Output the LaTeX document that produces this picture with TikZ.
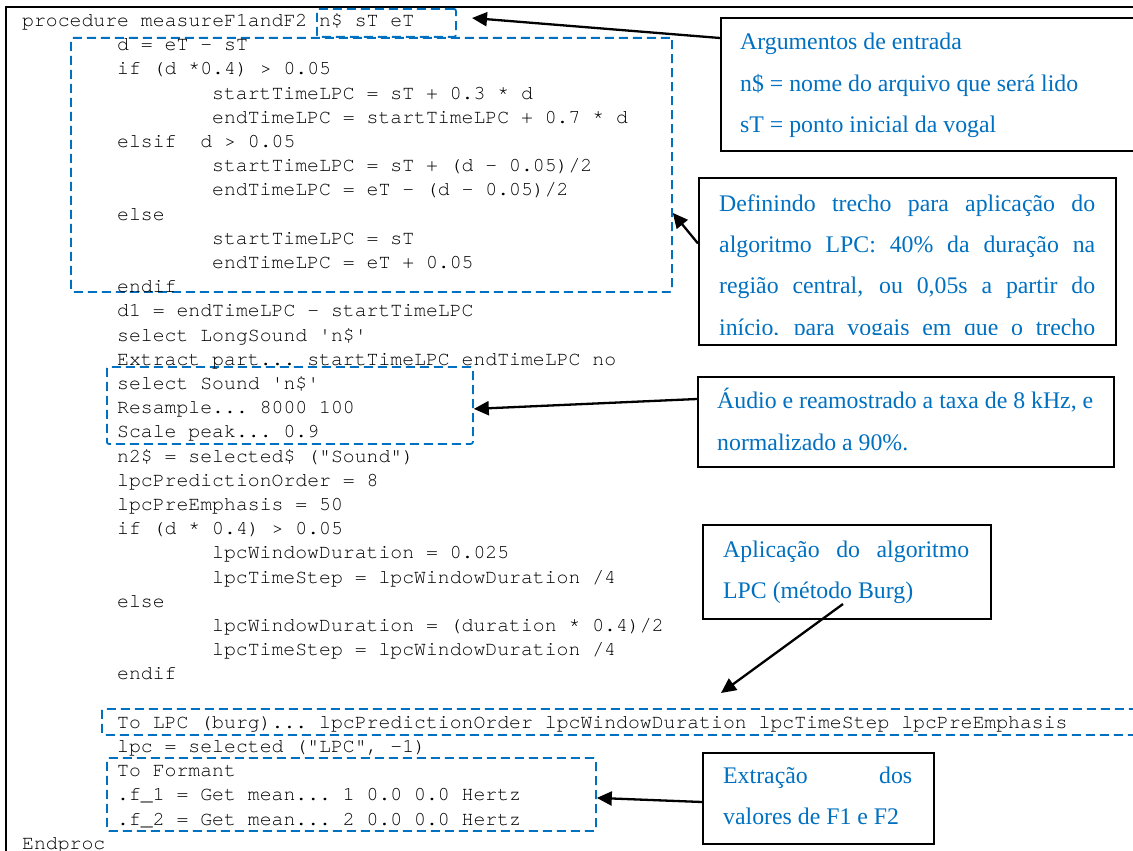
\documentclass[tikz,border=0pt]{standalone}
\usepackage{fontspec}
\setmainfont{Liberation Serif}
\setmonofont{texgyrecursor}[Extension=.otf, UprightFont=*-regular]
\usetikzlibrary{arrows.meta}
\definecolor{wordblue}{RGB}{0,112,192}
\tikzset{
  code/.style={anchor=base west, inner sep=0pt, font=\ttfamily\fontsize{19.8}{24}\selectfont},
  note/.style={anchor=base west, inner sep=0pt, text=wordblue, font=\fontsize{23.8}{28}\selectfont},
  dbox/.style={draw=wordblue, line width=1.8pt, dash pattern=on 9pt off 5pt, rounded corners=2pt, anchor=north west, inner sep=0pt},
  cbox/.style={draw=black, line width=2pt, fill=white, anchor=north west, inner sep=0pt},
  arr/.style={line width=2.3pt, -{Triangle[length=15pt,width=14pt]}},
}
\begin{document}
\begin{tikzpicture}[x=1pt,y=-1pt]
\useasboundingbox (0,0) rectangle (1133,851);
\clip (0,0) rectangle (1133,851);
% outer frame
\draw[line width=2pt] (1170,7) -- (6,7) -- (6,880);
% dashed boxes
\node[dbox, minimum width=139pt, minimum height=28pt] (b1) at (316,8) {};
\node[dbox, minimum width=601pt, minimum height=254pt] (b2) at (70,37) {};
\node[dbox, minimum width=366pt, minimum height=77pt] (b3) at (106,366) {};
\node[dbox, minimum width=1080pt, minimum height=26pt] (b4) at (101,708) {};
\node[dbox, minimum width=489pt, minimum height=73pt] (b5) at (106,757) {};
% code
\node[code] (c0) at (22,26.5) {procedure measureF1andF2 n\$ sT eT};
\node[code] (c1) at (117,50.7) {d = eT - sT};
\node[code] (c2) at (117,74.9) {if (d *0.4) > 0.05};
\node[code] (c3) at (212,99.1) {startTimeLPC = sT + 0.3 * d};
\node[code] (c4) at (212,123.3) {endTimeLPC = startTimeLPC + 0.7 * d};
\node[code] (c5) at (117,147.5) {elsif~ d > 0.05};
\node[code] (c6) at (212,171.7) {startTimeLPC = sT + (d - 0.05)/2};
\node[code] (c7) at (212,195.9) {endTimeLPC = eT - (d - 0.05)/2};
\node[code] (c8) at (117,220.1) {else};
\node[code] (c9) at (212,244.3) {startTimeLPC = sT};
\node[code] (c10) at (212,268.5) {endTimeLPC = eT + 0.05};
\node[code] (c11) at (117,292.7) {endif};
\node[code] (c12) at (117,316.9) {d1 = endTimeLPC - startTimeLPC};
\node[code] (c13) at (117,341.1) {select LongSound 'n\$'};
\node[code] (c14) at (117,365.3) {Extract part... startTimeLPC endTimeLPC no};
\node[code] (c15) at (117,389.5) {select Sound 'n\$'};
\node[code] (c16) at (117,413.7) {Resample... 8000 100};
\node[code] (c17) at (117,437.9) {Scale peak... 0.9};
\node[code] (c18) at (117,462.1) {n2\$ = selected\$ ("Sound")};
\node[code] (c19) at (117,486.3) {lpcPredictionOrder = 8};
\node[code] (c20) at (117,510.5) {lpcPreEmphasis = 50};
\node[code] (c21) at (117,534.7) {if (d * 0.4) > 0.05};
\node[code] (c22) at (212,558.9) {lpcWindowDuration = 0.025};
\node[code] (c23) at (212,583.1) {lpcTimeStep = lpcWindowDuration /4};
\node[code] (c24) at (117,607.3) {else};
\node[code] (c25) at (212,631.5) {lpcWindowDuration = (duration * 0.4)/2};
\node[code] (c26) at (212,655.7) {lpcTimeStep = lpcWindowDuration /4};
\node[code] (c27) at (117,679.9) {endif};
\node[code] (c29) at (117,728.3) {To LPC (burg)... lpcPredictionOrder lpcWindowDuration lpcTimeStep lpcPreEmphasis};
\node[code] (c30) at (117,752.5) {lpc = selected ("LPC", -1)};
\node[code] (c31) at (117,776.7) {To Formant};
\node[code] (c32) at (117,800.9) {.f\_1 = Get mean... 1 0.0 0.0 Hertz};
\node[code] (c33) at (117,825.1) {.f\_2 = Get mean... 2 0.0 0.0 Hertz};
\node[code] (c34) at (22,849.3) {Endproc};
% callout boxes
\node[cbox, minimum width=440pt, minimum height=133pt] (A) at (720,17) {};
\node[note] (a1) at (740,50) {Argumentos de entrada};
\node[note] (a2) at (740,92) {n\$ = nome do arquivo que será lido};
\node[note] (a3) at (740,132) {sT = ponto inicial da vogal};

\node[cbox, minimum width=417pt, minimum height=167pt] (B) at (698,177) {};
\begin{scope}
\clip (698,177) rectangle (1115,334);
\node[note] (bt1) at (719,211) {\makebox[376pt][s]{Definindo trecho para aplicação do}};
\node[note] (bt2) at (719,252) {\makebox[376pt][s]{algoritmo LPC: 40\% da duração na}};
\node[note] (bt3) at (719,293) {\makebox[376pt][s]{região central, ou 0,05s a partir do}};
\node[note] (bt4) at (719,335) {\makebox[376pt][s]{início, para vogais em que o trecho}};
\end{scope}

\node[cbox, minimum width=416pt, minimum height=90pt] (C) at (697,376) {};
\node[note] (ct1) at (717,408) {\makebox[376pt][s]{Áudio e reamostrado a taxa de 8 kHz, e}};
\node[note] (ct2) at (717,450) {normalizado a 90\%.};

\node[cbox, minimum width=288pt, minimum height=94pt] (D) at (702,524) {};
\node[note] (dt1) at (723,557) {\makebox[246pt][s]{Aplicação do algoritmo}};
\node[note] (dt2) at (723,598) {LPC (método Burg)};

\node[cbox, minimum width=231pt, minimum height=91pt] (E) at (702,752) {};
\node[note] (et1) at (723,783) {\makebox[189pt][s]{Extração dos}};
\node[note] (et2) at (723,824) {valores de F1 e F2};

% arrows
\coordinate (t1) at (472,18);
\coordinate (t4) at (721,693);
\draw[arr] ([yshift=-21pt]A.north west) -- (t1);
\draw[arr] ([yshift=18pt]B.west) -- ([yshift=-48pt]b2.east);
\draw[arr] ([yshift=23pt]C.west) -- ([yshift=-3.5pt]b3.east);
\draw[arr] ([shift={(-4pt,16pt)}]D.south) -- (t4);
\draw[arr] ([yshift=-3.5pt]E.west) -- ([yshift=-3.5pt]b5.east);
\end{tikzpicture}
\end{document}
